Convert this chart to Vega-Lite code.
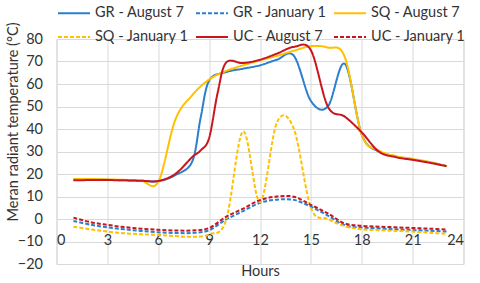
{
  "$schema": "https://vega.github.io/schema/vega-lite/v6.json",
  "width": 407,
  "height": 225,
  "autosize": {"type": "none"},
  "padding": {"left": 56.5, "top": 39, "right": 16.5, "bottom": 19},
  "background": "white",
  "config": {
    "font": "Lato",
    "view": {"stroke": "#D9D9D9", "strokeWidth": 1},
    "axis": {
      "grid": true,
      "gridColor": "#D9D9D9",
      "gridWidth": 1,
      "domain": false,
      "ticks": false,
      "labelFont": "Lato",
      "labelFontSize": 14.5,
      "labelColor": "#333333",
      "titleFont": "Lato",
      "titleFontSize": 14.5,
      "titleFontWeight": "normal",
      "titleColor": "#333333"
    }
  },
  "data": {
    "values": [
      {"series": "GR - August 7", "hour": 1, "value": 17.5},
      {"series": "GR - August 7", "hour": 2, "value": 17.5},
      {"series": "GR - August 7", "hour": 3, "value": 17.4},
      {"series": "GR - August 7", "hour": 4, "value": 17.2},
      {"series": "GR - August 7", "hour": 5, "value": 17.0},
      {"series": "GR - August 7", "hour": 6, "value": 16.8},
      {"series": "GR - August 7", "hour": 7, "value": 19.5},
      {"series": "GR - August 7", "hour": 8, "value": 25.5},
      {"series": "GR - August 7", "hour": 8.5, "value": 45},
      {"series": "GR - August 7", "hour": 9, "value": 61.5},
      {"series": "GR - August 7", "hour": 10, "value": 65.3},
      {"series": "GR - August 7", "hour": 11, "value": 66.8},
      {"series": "GR - August 7", "hour": 12, "value": 68.3},
      {"series": "GR - August 7", "hour": 13, "value": 70.8},
      {"series": "GR - August 7", "hour": 14, "value": 72.5},
      {"series": "GR - August 7", "hour": 15, "value": 52.5},
      {"series": "GR - August 7", "hour": 16, "value": 50},
      {"series": "GR - August 7", "hour": 17, "value": 69},
      {"series": "GR - August 7", "hour": 18, "value": 37.5},
      {"series": "GR - August 7", "hour": 19, "value": 30},
      {"series": "GR - August 7", "hour": 20, "value": 27.8},
      {"series": "GR - August 7", "hour": 21, "value": 26.5},
      {"series": "GR - August 7", "hour": 22, "value": 25.2},
      {"series": "GR - August 7", "hour": 23, "value": 23.5},

      {"series": "GR - January 1", "hour": 1, "value": -0.9},
      {"series": "GR - January 1", "hour": 2, "value": -2.5},
      {"series": "GR - January 1", "hour": 3, "value": -3.7},
      {"series": "GR - January 1", "hour": 4, "value": -4.6},
      {"series": "GR - January 1", "hour": 5, "value": -5.3},
      {"series": "GR - January 1", "hour": 6, "value": -5.9},
      {"series": "GR - January 1", "hour": 7, "value": -6.2},
      {"series": "GR - January 1", "hour": 8, "value": -6.2},
      {"series": "GR - January 1", "hour": 9, "value": -5.0},
      {"series": "GR - January 1", "hour": 10, "value": -0.2},
      {"series": "GR - January 1", "hour": 11, "value": 3.5},
      {"series": "GR - January 1", "hour": 12, "value": 7.2},
      {"series": "GR - January 1", "hour": 13, "value": 8.6},
      {"series": "GR - January 1", "hour": 14, "value": 8.5},
      {"series": "GR - January 1", "hour": 15, "value": 5.5},
      {"series": "GR - January 1", "hour": 16, "value": 1.5},
      {"series": "GR - January 1", "hour": 17, "value": -2.8},
      {"series": "GR - January 1", "hour": 18, "value": -3.8},
      {"series": "GR - January 1", "hour": 19, "value": -4.2},
      {"series": "GR - January 1", "hour": 20, "value": -4.6},
      {"series": "GR - January 1", "hour": 21, "value": -4.9},
      {"series": "GR - January 1", "hour": 22, "value": -5.2},
      {"series": "GR - January 1", "hour": 23, "value": -5.6},

      {"series": "SQ - August 7", "hour": 1, "value": 17.8},
      {"series": "SQ - August 7", "hour": 2, "value": 17.8},
      {"series": "SQ - August 7", "hour": 3, "value": 17.6},
      {"series": "SQ - August 7", "hour": 4, "value": 17.4},
      {"series": "SQ - August 7", "hour": 5, "value": 17.0},
      {"series": "SQ - August 7", "hour": 6, "value": 16.5},
      {"series": "SQ - August 7", "hour": 7, "value": 44},
      {"series": "SQ - August 7", "hour": 8, "value": 55},
      {"series": "SQ - August 7", "hour": 9, "value": 62},
      {"series": "SQ - August 7", "hour": 10, "value": 65.8},
      {"series": "SQ - August 7", "hour": 11, "value": 68.3},
      {"series": "SQ - August 7", "hour": 12, "value": 70.5},
      {"series": "SQ - August 7", "hour": 13, "value": 72.5},
      {"series": "SQ - August 7", "hour": 14, "value": 74.8},
      {"series": "SQ - August 7", "hour": 15, "value": 76.8},
      {"series": "SQ - August 7", "hour": 16, "value": 76.2},
      {"series": "SQ - August 7", "hour": 17, "value": 72},
      {"series": "SQ - August 7", "hour": 18, "value": 37.5},
      {"series": "SQ - August 7", "hour": 19, "value": 30.5},
      {"series": "SQ - August 7", "hour": 20, "value": 28},
      {"series": "SQ - August 7", "hour": 21, "value": 26.7},
      {"series": "SQ - August 7", "hour": 22, "value": 25.3},
      {"series": "SQ - August 7", "hour": 23, "value": 23.5},

      {"series": "SQ - January 1", "hour": 1, "value": -3.4},
      {"series": "SQ - January 1", "hour": 2, "value": -4.6},
      {"series": "SQ - January 1", "hour": 3, "value": -5.6},
      {"series": "SQ - January 1", "hour": 4, "value": -6.3},
      {"series": "SQ - January 1", "hour": 5, "value": -6.8},
      {"series": "SQ - January 1", "hour": 6, "value": -7.1},
      {"series": "SQ - January 1", "hour": 7, "value": -7.6},
      {"series": "SQ - January 1", "hour": 8, "value": -7.9},
      {"series": "SQ - January 1", "hour": 9, "value": -6.8},
      {"series": "SQ - January 1", "hour": 10, "value": -0.5},
      {"series": "SQ - January 1", "hour": 11, "value": 39},
      {"series": "SQ - January 1", "hour": 12, "value": 7.5},
      {"series": "SQ - January 1", "hour": 13, "value": 43},
      {"series": "SQ - January 1", "hour": 14, "value": 40},
      {"series": "SQ - January 1", "hour": 15, "value": 5},
      {"series": "SQ - January 1", "hour": 16, "value": 0},
      {"series": "SQ - January 1", "hour": 17, "value": -3.2},
      {"series": "SQ - January 1", "hour": 18, "value": -4.6},
      {"series": "SQ - January 1", "hour": 19, "value": -5.0},
      {"series": "SQ - January 1", "hour": 20, "value": -5.3},
      {"series": "SQ - January 1", "hour": 21, "value": -5.6},
      {"series": "SQ - January 1", "hour": 22, "value": -6.1},
      {"series": "SQ - January 1", "hour": 23, "value": -6.6},

      {"series": "UC - August 7", "hour": 1, "value": 17.2},
      {"series": "UC - August 7", "hour": 2, "value": 17.3},
      {"series": "UC - August 7", "hour": 3, "value": 17.3},
      {"series": "UC - August 7", "hour": 4, "value": 17.2},
      {"series": "UC - August 7", "hour": 5, "value": 17.0},
      {"series": "UC - August 7", "hour": 6, "value": 16.9},
      {"series": "UC - August 7", "hour": 7, "value": 20},
      {"series": "UC - August 7", "hour": 8, "value": 27.5},
      {"series": "UC - August 7", "hour": 8.5, "value": 30.5},
      {"series": "UC - August 7", "hour": 9, "value": 36},
      {"series": "UC - August 7", "hour": 9.5, "value": 56},
      {"series": "UC - August 7", "hour": 10, "value": 69.5},
      {"series": "UC - August 7", "hour": 11, "value": 69.3},
      {"series": "UC - August 7", "hour": 12, "value": 70.8},
      {"series": "UC - August 7", "hour": 13, "value": 73.5},
      {"series": "UC - August 7", "hour": 14, "value": 76.5},
      {"series": "UC - August 7", "hour": 15, "value": 75},
      {"series": "UC - August 7", "hour": 16, "value": 50},
      {"series": "UC - August 7", "hour": 17, "value": 45.5},
      {"series": "UC - August 7", "hour": 18, "value": 38.5},
      {"series": "UC - August 7", "hour": 19, "value": 30},
      {"series": "UC - August 7", "hour": 20, "value": 27.5},
      {"series": "UC - August 7", "hour": 21, "value": 26.3},
      {"series": "UC - August 7", "hour": 22, "value": 25},
      {"series": "UC - August 7", "hour": 23, "value": 23.5},

      {"series": "UC - January 1", "hour": 1, "value": 0.6},
      {"series": "UC - January 1", "hour": 2, "value": -1.4},
      {"series": "UC - January 1", "hour": 3, "value": -2.6},
      {"series": "UC - January 1", "hour": 4, "value": -3.6},
      {"series": "UC - January 1", "hour": 5, "value": -4.3},
      {"series": "UC - January 1", "hour": 6, "value": -4.8},
      {"series": "UC - January 1", "hour": 7, "value": -5.1},
      {"series": "UC - January 1", "hour": 8, "value": -5.1},
      {"series": "UC - January 1", "hour": 9, "value": -4.0},
      {"series": "UC - January 1", "hour": 10, "value": 1.0},
      {"series": "UC - January 1", "hour": 11, "value": 4.6},
      {"series": "UC - January 1", "hour": 12, "value": 8.4},
      {"series": "UC - January 1", "hour": 13, "value": 10.0},
      {"series": "UC - January 1", "hour": 14, "value": 9.9},
      {"series": "UC - January 1", "hour": 15, "value": 6.3},
      {"series": "UC - January 1", "hour": 16, "value": 2.5},
      {"series": "UC - January 1", "hour": 17, "value": -2.0},
      {"series": "UC - January 1", "hour": 18, "value": -3.0},
      {"series": "UC - January 1", "hour": 19, "value": -3.4},
      {"series": "UC - January 1", "hour": 20, "value": -3.7},
      {"series": "UC - January 1", "hour": 21, "value": -4.0},
      {"series": "UC - January 1", "hour": 22, "value": -4.3},
      {"series": "UC - January 1", "hour": 23, "value": -4.7}
    ]
  },
  "mark": {"type": "line", "interpolate": "cardinal", "strokeWidth": 2},
  "encoding": {
    "x": {
      "field": "hour",
      "type": "quantitative",
      "scale": {"domain": [0, 24], "nice": false},
      "axis": {
        "values": [0, 3, 6, 9, 12, 15, 18, 21, 24],
        "title": "Hours",
        "labelPadding": -31,
        "titleY": 7,
        "titleBaseline": "middle"
      }
    },
    "y": {
      "field": "value",
      "type": "quantitative",
      "scale": {"domain": [-20, 80], "nice": false},
      "axis": {
        "values": [-20, -10, 0, 10, 20, 30, 40, 50, 60, 70, 80],
        "title": "Meran radiant temperature (°C)",
        "labelPadding": 14,
        "titleX": -43.5,
        "titleY": 82.5,
        "titleBaseline": "middle"
      }
    },
    "color": {
      "field": "series",
      "type": "nominal",
      "scale": {
        "domain": ["GR - August 7", "GR - January 1", "SQ - August 7", "SQ - January 1", "UC - August 7", "UC - January 1"],
        "range": ["#2A7FCF", "#2A7FCF", "#FFC000", "#FFC000", "#C8161E", "#C8161E"]
      },
      "legend": {
        "title": null,
        "orient": "none",
        "direction": "horizontal",
        "legendX": 0.5,
        "legendY": -43,
        "columns": 3,
        "padding": 0,
        "symbolType": "stroke",
        "symbolSize": 1024,
        "symbolStrokeWidth": 2,
        "labelFont": "Lato",
        "labelFontSize": 14.5,
        "labelColor": "#333333",
        "labelOffset": 4,
        "labelLimit": 300,
        "columnPadding": 3,
        "rowPadding": -12,
        "gridAlign": "each"
      }
    },
    "strokeDash": {
      "field": "series",
      "type": "nominal",
      "scale": {
        "domain": ["GR - August 7", "GR - January 1", "SQ - August 7", "SQ - January 1", "UC - August 7", "UC - January 1"],
        "range": [[1, 0], [4, 2], [1, 0], [4, 2], [1, 0], [4, 2]]
      },
      "legend": {
        "title": null,
        "orient": "none",
        "direction": "horizontal",
        "legendX": 0.5,
        "legendY": -43,
        "columns": 3,
        "padding": 0,
        "symbolType": "stroke",
        "symbolSize": 1024,
        "symbolStrokeWidth": 2,
        "labelFont": "Lato",
        "labelFontSize": 14.5,
        "labelColor": "#333333",
        "labelOffset": 4,
        "labelLimit": 300,
        "columnPadding": 3,
        "rowPadding": -12,
        "gridAlign": "each"
      }
    }
  }
}
